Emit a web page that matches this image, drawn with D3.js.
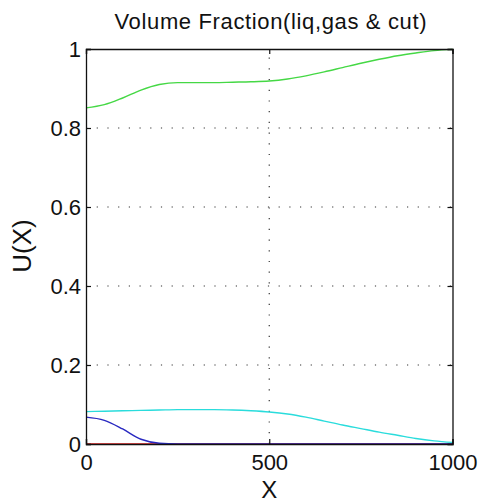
<!DOCTYPE html>
<html>
<head>
<meta charset="utf-8">
<script src="https://cdn.jsdelivr.net/npm/d3@7"></script>
<style>
  html, body { margin: 0; padding: 0; background: #fff; }
  svg { display: block; font-family: "Liberation Sans", Arial, sans-serif; }
</style>
</head>
<body>
<div id="container"></div>
<script>
// values
const xs = [0, 50, 100, 150, 200, 250, 300, 350, 400, 450, 500,
            550, 600, 650, 700, 750, 800, 850, 900, 950, 1000];
const redSeries = [0, 0, 0, 0, 0, 0, 0, 0, 0, 0, 0,
                   0, 0, 0, 0, 0, 0, 0, 0, 0, 0];
const greenSeries = [0.851, 0.859, 0.876, 0.896, 0.910, 0.915, 0.915, 0.915, 0.916, 0.917, 0.919,
                     0.924, 0.932, 0.942, 0.953, 0.964, 0.974, 0.983, 0.990, 0.996, 0.999];
const cyanSeries = [0.082, 0.083, 0.084, 0.085, 0.086, 0.087, 0.087, 0.087, 0.086, 0.084, 0.081,
                    0.076, 0.068, 0.058, 0.048, 0.039, 0.030, 0.022, 0.014, 0.008, 0.004];
const blueSeries = [0.068, 0.060, 0.038, 0.012, 0.002, 0, 0, 0, 0, 0, 0,
                    0, 0, 0, 0, 0, 0, 0, 0, 0, 0];
const xTicks = [0, 500, 1000];
const yTicks = [0, 0.2, 0.4, 0.6, 0.8, 1];

const w = 480;
const h = 504;
const pad = { top: 49, bottom: 60, left: 86, right: 27.5 };

const svg = d3.select("#container").append("svg")
  .attr("width", w)
  .attr("height", h);

const x = d3.scaleLinear().domain([0, 1000]).range([pad.left, w - pad.right]);
const y = d3.scaleLinear().domain([0, 1]).range([h - pad.bottom, pad.top]);

// dotted grid (only inner lines)
const grid = svg.append("g").attr("class", "grid");
grid.selectAll("line.gy")
  .data(yTicks.filter((d) => d > 0 && d < 1))
  .enter().append("line")
  .attr("x1", x(0)).attr("x2", x(1000))
  .attr("y1", (d) => y(d)).attr("y2", (d) => y(d));
grid.selectAll("line.gx")
  .data(xTicks.filter((d) => d > 0 && d < 1000))
  .enter().append("line")
  .attr("y1", y(0)).attr("y2", y(1))
  .attr("x1", (d) => x(d)).attr("x2", (d) => x(d));
grid.selectAll("line")
  .attr("stroke", "#333")
  .attr("stroke-width", 1.2)
  .attr("stroke-dasharray", "1.2,9.5");

// series
const line = (vals) => d3.line()
  .x((d, i) => x(xs[i]))
  .y((d) => y(d))
  .curve(d3.curveMonotoneX)(vals);

const series = [
  { vals: redSeries, color: "#e01010" },
  { vals: greenSeries, color: "#45d845" },
  { vals: cyanSeries, color: "#2adcdc" },
  { vals: blueSeries, color: "#2828c0" }
];

svg.append("g").selectAll("path")
  .data(series)
  .enter().append("path")
  .attr("d", (d) => line(d.vals))
  .attr("fill", "none")
  .attr("stroke", (d) => d.color)
  .attr("stroke-width", 1.4);

// axes with inward ticks
const axisB = d3.axisBottom(x).tickValues(xTicks).tickSize(-5).tickPadding(10).tickFormat(d3.format("d"));
const axisT = d3.axisTop(x).tickValues(xTicks).tickSize(-5).tickFormat("");
const axisL = d3.axisLeft(y).tickValues(yTicks).tickSize(-5).tickPadding(5).tickFormat((d) => d === 0 || d === 1 ? d : d.toFixed(1));
const axisR = d3.axisRight(y).tickValues(yTicks).tickSize(-5).tickFormat("");

const gB = svg.append("g").attr("transform", `translate(0,${y(0)})`).call(axisB);
const gT = svg.append("g").attr("transform", `translate(0,${y(1)})`).call(axisT);
const gL = svg.append("g").attr("transform", `translate(${x(0)},0)`).call(axisL);
const gR = svg.append("g").attr("transform", `translate(${x(1000)},0)`).call(axisR);

[gB, gT, gL, gR].forEach((g) => {
  g.select(".domain").attr("stroke", "#111").attr("stroke-width", 1.3);
  g.selectAll(".tick line").attr("stroke", "#111").attr("stroke-width", 1.2);
  g.selectAll(".tick text")
    .attr("fill", "#111")
    .style("font-size", "22px")
    .style("font-family", "'Liberation Sans', Arial, sans-serif");
});

// title and labels
svg.append("text")
  .attr("x", 270.5)
  .attr("y", 29)
  .attr("text-anchor", "middle")
  .attr("textLength", 312)
  .attr("lengthAdjust", "spacing")
  .style("font-size", "22px")
  .attr("fill", "#111")
  .text("Volume Fraction(liq,gas & cut)");

svg.append("text")
  .attr("x", (x(0) + x(1000)) / 2)
  .attr("y", 498)
  .attr("text-anchor", "middle")
  .style("font-size", "24px")
  .attr("fill", "#111")
  .text("X");

svg.append("text")
  .attr("transform", `translate(31,246) rotate(-90)`)
  .attr("text-anchor", "middle")
  .style("font-size", "26px")
  .attr("fill", "#111")
  .text("U(X)");
</script>
</body>
</html>
